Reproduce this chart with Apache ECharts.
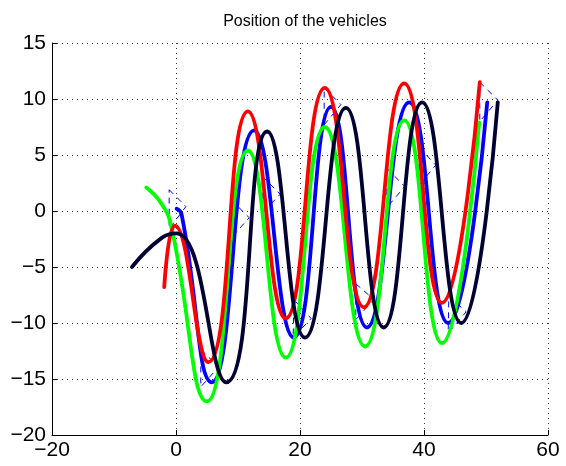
<!DOCTYPE html>
<html>
<head>
<meta charset="utf-8">
<script src="https://cdn.jsdelivr.net/npm/echarts@6/dist/echarts.min.js"></script>
<style>
html,body{margin:0;padding:0;background:#fff;}
#chart{width:566px;height:466px;}
</style>
</head>
<body>
<div id="chart"></div>
<script>
// Axis ticks
const xTicks = [-20, 0, 20, 40, 60];
const yTicks = [-20, -15, -10, -5, 0, 5, 10, 15];

// Vehicle trajectories [x, y] (start points, then peaks / troughs)
const redPath = [[-1.9,-6.8],[-0.2,-1.3],[5.2,-13.5],[11.6,8.9],[17.7,-9.6],[24.0,11.0],[30.3,-8.6],[36.8,11.4],[42.9,-8.2],[49.0,11.5]];
const bluePath = [[0.1,0.2],[0.9,-0.3],[5.8,-15.3],[12.6,7.2],[19.0,-11.3],[25.0,9.3],[30.8,-10.4],[37.6,9.7],[43.9,-10.0],[50.2,9.7]];
const greenPath = [[-4.8,2.1],[-2.4,0.7],[-0.8,-1.3],[5.0,-17.0],[11.6,5.4],[17.7,-13.1],[24.0,7.5],[30.5,-12.1],[36.8,8.1],[42.9,-11.8],[48.9,7.9]];
const blackPath = [[-7.1,-5.0],[-2.3,-2.4],[0.1,-2.0],[8.1,-15.3],[14.7,7.1],[20.8,-11.3],[27.4,9.2],[33.5,-10.4],[39.7,9.7],[46.0,-10.0],[51.9,9.7]];

// Desired formation triangles (thin dashed blue), vertices A, B, C
const formA = [[-1.1,1.9],[4.0,-12.4],[8.9,1.0],[13.9,3.1],[19.0,-7.9],[23.9,11.0],[29.0,-6.5],[34.0,3.8],[39.2,5.7],[44.0,-7.6],[49.0,11.5]];
const formB = [[1.6,0.4],[6.9,-13.9],[11.8,-0.6],[16.8,1.5],[21.8,-9.6],[26.6,9.5],[31.9,-7.9],[36.9,2.2],[41.9,4.1],[46.8,-9.0],[51.9,9.9]];
const formC = [[-1.1,-1.6],[4.0,-15.7],[8.9,-2.4],[13.9,-0.2],[18.9,-11.3],[23.9,7.7],[29.0,-9.7],[34.0,0.3],[39.2,2.3],[43.9,-10.9],[49.0,8.0]];

const FONT = '"Liberation Sans", Arial, Helvetica, sans-serif';
const fmt = v => String(v).replace('-', '\u2212');

const series = [];
formA.forEach((a, i) => {
  series.push({
    type: 'line', silent: true, showSymbol: false, symbol: 'none',
    data: [a, formB[i], formC[i], a],
    lineStyle: { color: '#0000ff', width: 1, type: [6, 5] },
    z: 1
  });
});
const curve = (data, color) => ({
  type: 'line', silent: true, showSymbol: false, symbol: 'none', smooth: 0.5,
  data: data,
  lineStyle: { color: color, width: 3.8, cap: 'round', join: 'round' },
  z: 2
});
series.push(curve(bluePath, '#0000ff'));
series.push(curve(greenPath, '#00ff00'));
series.push(curve(redPath, '#ff0000'));
series.push(curve(blackPath, '#000033'));

const chart = echarts.init(document.getElementById('chart'), null, { renderer: 'canvas' });
chart.setOption({
  animation: false,
  backgroundColor: '#ffffff',
  title: {
    text: 'Position of the vehicles',
    left: 300, top: 9, textAlign: 'center',
    textStyle: { fontFamily: FONT, fontSize: 16, fontWeight: 'normal', color: '#000' }
  },
  grid: { left: 52, right: 18, top: 43, bottom: 31, containLabel: false },
  xAxis: {
    type: 'value', min: xTicks[0], max: xTicks[xTicks.length - 1], interval: 20,
    axisLine: { show: true, onZero: false, lineStyle: { color: '#000', width: 1 } },
    axisTick: { show: true, inside: true, length: 5, lineStyle: { color: '#000' } },
    axisLabel: { color: '#000', fontFamily: FONT, fontSize: 21, margin: 5, formatter: fmt },
    splitLine: { show: true, lineStyle: { color: '#333', width: 1, type: [1, 4] } }
  },
  yAxis: {
    type: 'value', min: yTicks[0], max: yTicks[yTicks.length - 1], interval: 5,
    axisLine: { show: true, onZero: false, lineStyle: { color: '#000', width: 1 } },
    axisTick: { show: true, inside: true, length: 5, lineStyle: { color: '#000' } },
    axisLabel: { color: '#000', fontFamily: FONT, fontSize: 21, margin: 6, formatter: fmt },
    splitLine: { show: true, lineStyle: { color: '#333', width: 1, type: [1, 4] } }
  },
  series: series
});
</script>
</body>
</html>
